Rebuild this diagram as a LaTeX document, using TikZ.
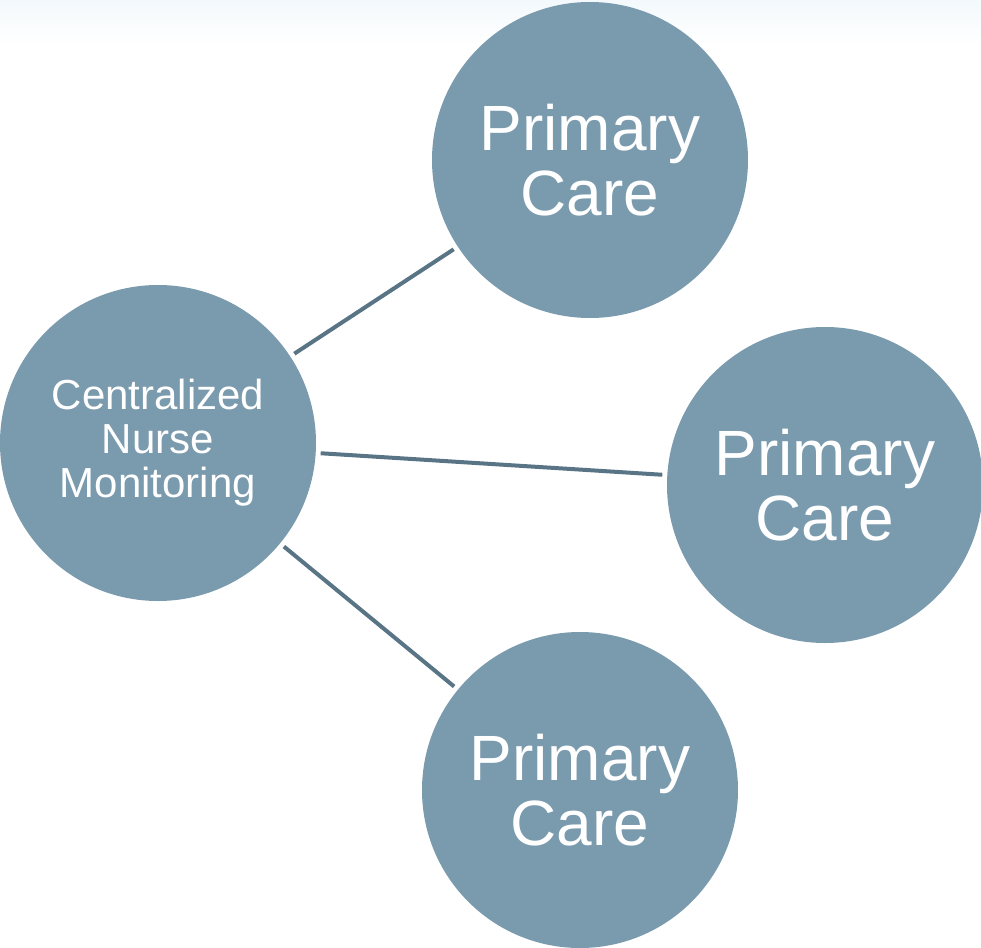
\documentclass[tikz,border=0pt]{standalone}
\usepackage{fontspec}
\setmainfont{Liberation Sans}
\definecolor{carefill}{RGB}{122,154,174}
\definecolor{linkcol}{RGB}{88,116,133}
\definecolor{topwash}{RGB}{243,249,252}
\tikzset{
    hub/.style={circle,fill=carefill,text=white,minimum size=158pt,inner sep=0pt,outer sep=2.5pt,align=center},
    link/.style={draw=linkcol,line width=2pt}
}
\begin{document}
\begin{tikzpicture}[x=0.5pt,y=-0.5pt]

    \def\W{981}
    \def\H{948}

    \useasboundingbox (0,0) rectangle (\W,\H);

    % faint wash at the top edge
    \shade[top color=topwash,bottom color=white] (0,0) rectangle (\W,45);

    \node[hub,font=\fontsize{21pt}{22pt}\selectfont] (nurse) at (158,443) {Centralized\\Nurse\\Monitoring};

    \node[hub,font=\fontsize{32pt}{32.5pt}\selectfont] (careA) at (590,160) {Primary\\Care};
    \node[hub,font=\fontsize{32pt}{32.5pt}\selectfont] (careB) at (825,485) {Primary\\Care};
    \node[hub,font=\fontsize{32pt}{32.5pt}\selectfont] (careC) at (580,790) {Primary\\Care};

    \draw[link] (nurse) -- (careA);
    \draw[link] (nurse) -- (careB);
    \draw[link] (nurse) -- (careC);

\end{tikzpicture}
\end{document}
